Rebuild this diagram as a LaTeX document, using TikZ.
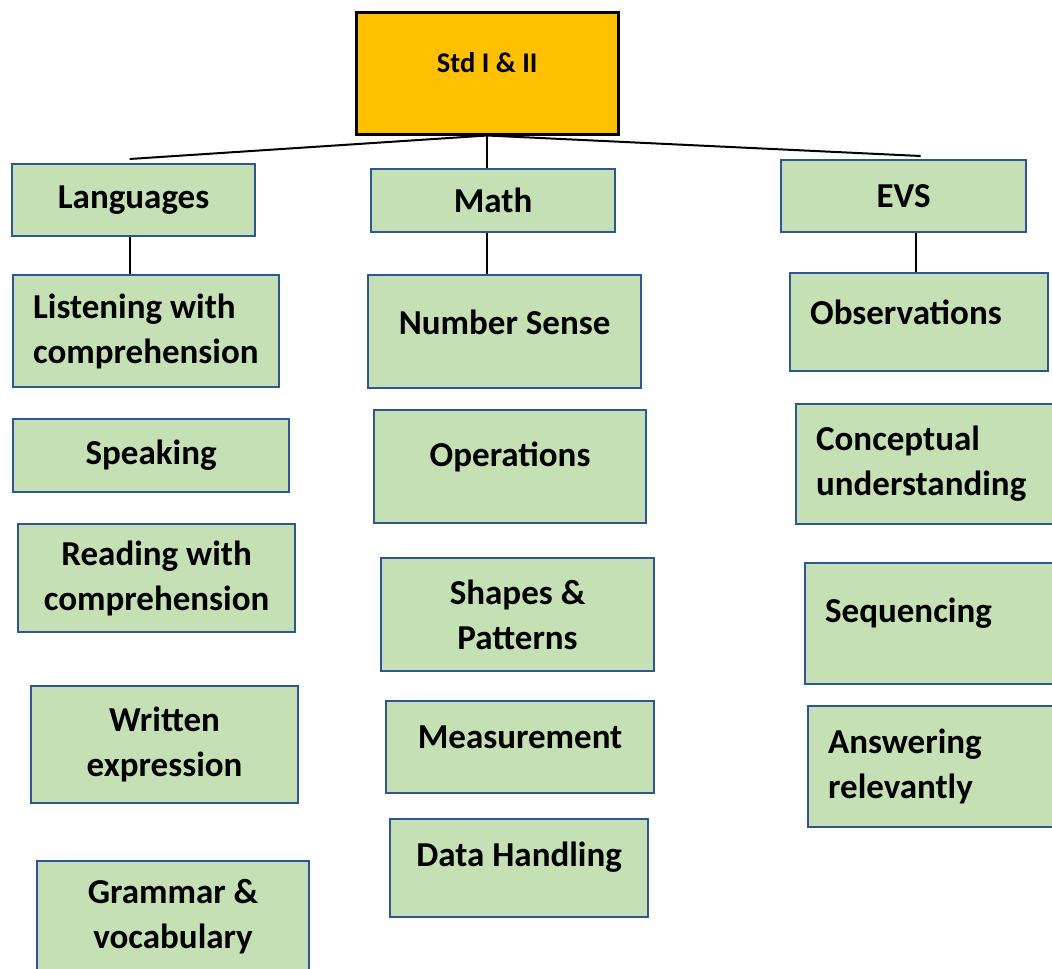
\documentclass[tikz,border=0pt]{standalone}
\usepackage{fontspec}
\setmainfont{Carlito}
\usepackage{xcolor}
\definecolor{stdorange}{HTML}{FFC000}
\definecolor{cellgreen}{HTML}{C5E0B4}
\definecolor{cellblue}{HTML}{2F5597}

\begin{document}
\begin{tikzpicture}[x=1pt, y=-1pt,
    cell/.style={draw=cellblue, fill=cellgreen, line width=2.2pt, anchor=north west, inner sep=0pt,
                 align=center, font=\fontsize{35}{45}\selectfont\bfseries},
    leftcell/.style={cell, align=flush left},
    lift/.style={text depth=#1}, % pushes a one-line label up in its box
    link/.style={black, line width=2pt}]
  \useasboundingbox[fill=white] (0,0) rectangle (1052,969);

  % top box
  \node[cell, draw=black, line width=2.5pt, fill=stdorange, font=\fontsize{28.5}{34}\selectfont\bfseries, lift=22pt,
        minimum width=262pt, minimum height=122pt] (std) at (355,11) {Std I \& II};

  % Languages column
  \node[cell, minimum width=243pt, minimum height=72pt] (lang) at (11,163) {Languages};
  \node[leftcell, text width=226pt, minimum width=266pt, minimum height=112pt] (listen) at (12,274) {Listening with\\comprehension};
  \node[cell, minimum width=276pt, minimum height=73pt] (speak) at (12,418) {Speaking};
  \node[cell, minimum width=277pt, minimum height=108pt] (read) at (17,523) {Reading with\\comprehension};
  \node[cell, minimum width=267pt, minimum height=117pt] (write) at (30,685) {Written\\expression};
  \node[cell, minimum width=272pt, minimum height=112pt] (gram) at (36,860) {Grammar \&\\vocabulary};

  % Math column
  \node[cell, minimum width=244pt, minimum height=63pt] (math) at (370,168) {Math};
  \node[cell, lift=18pt, minimum width=273pt, minimum height=113pt] (ns) at (367,274) {Number Sense};
  \node[cell, lift=25pt, minimum width=272pt, minimum height=113pt] (ops) at (373,409) {Operations};
  \node[cell, minimum width=273pt, minimum height=113pt] (shapes) at (380,557) {Shapes \&\\Patterns};
  \node[cell, lift=20pt, minimum width=268pt, minimum height=92pt] (meas) at (385,700) {Measurement};
  \node[cell, lift=27pt, minimum width=258pt, minimum height=98pt] (data) at (389,818) {Data Handling};

  % EVS column (runs off the right edge)
  \node[cell, minimum width=245pt, minimum height=72pt] (evs) at (780,159) {EVS};
  \node[leftcell, lift=20pt, text width=218pt, minimum width=258pt, minimum height=98pt] (obs) at (789,272) {Observations};
  \node[leftcell, text width=230pt, minimum width=270pt, minimum height=120pt] (concept) at (795,403) {Conceptual\\understanding};
  \node[leftcell, lift=27pt, text width=221pt, minimum width=261pt, minimum height=121pt] (seq) at (804,562) {Sequencing};
  \node[leftcell, text width=218pt, minimum width=258pt, minimum height=121pt] (answer) at (807,705) {Answering\\relevantly};

  % connectors
  \draw[link] (std.south) -- ([xshift=-4pt,yshift=4pt]lang.north);
  \draw[link] (std.south) -- ([xshift=17pt,yshift=3pt]evs.north);
  \draw[link] (std.south) -- (std.south |- math.north);
  \draw[link] ([xshift=-4pt]lang.south) -- ([xshift=-4pt]lang.south |- listen.north);
  \draw[link] (std.south |- math.south) -- (std.south |- ns.north);
  \draw[link] ([xshift=12pt]evs.south) -- ([xshift=12pt]evs.south |- obs.north);
\end{tikzpicture}
\end{document}
